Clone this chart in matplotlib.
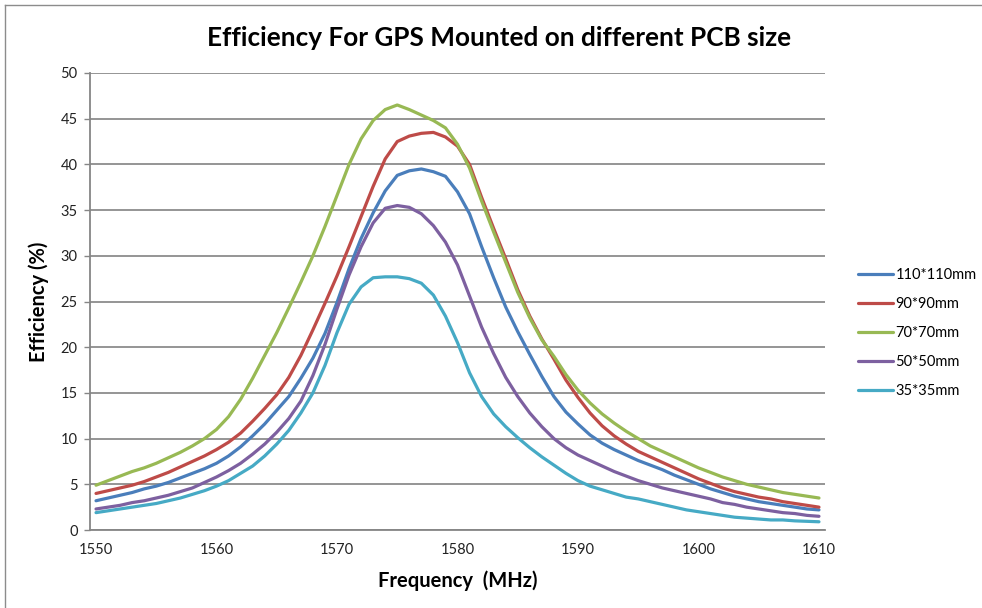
import numpy as np
import matplotlib.pyplot as plt
from matplotlib.lines import Line2D

plt.rcParams['font.family'] = ['Lato', 'DejaVu Sans']

# Frequency sweep, 1 MHz steps
freq = list(range(1550, 1611))

eff_110 = [3.2, 3.5, 3.8, 4.1, 4.5, 4.8, 5.2, 5.7, 6.2, 6.7,
           7.3, 8.1, 9.1, 10.3, 11.6, 13.1, 14.6, 16.6, 18.8, 21.5,
           24.9, 28.6, 31.9, 34.7, 37.1, 38.8, 39.3, 39.5, 39.2, 38.7,
           37.0, 34.6, 31.0, 27.6, 24.4, 21.7, 19.2, 16.8, 14.6, 12.9,
           11.6, 10.4, 9.5, 8.8, 8.2, 7.6, 7.1, 6.6, 6.0, 5.5,
           5.0, 4.5, 4.1, 3.7, 3.4, 3.1, 2.9, 2.7, 2.5, 2.3, 2.2]

eff_90 = [4.0, 4.3, 4.6, 4.9, 5.3, 5.8, 6.3, 6.9, 7.5, 8.1,
          8.8, 9.6, 10.6, 11.9, 13.3, 14.8, 16.7, 19.1, 21.9, 24.8,
          27.8, 31.0, 34.3, 37.6, 40.6, 42.5, 43.1, 43.4, 43.5, 43.0,
          42.0, 40.0, 36.4, 33.0, 29.7, 26.3, 23.4, 20.9, 18.7, 16.4,
          14.5, 12.8, 11.4, 10.3, 9.4, 8.6, 8.0, 7.4, 6.8, 6.2,
          5.6, 5.1, 4.6, 4.2, 3.9, 3.6, 3.4, 3.1, 2.9, 2.7, 2.5]

eff_70 = [4.9, 5.4, 5.9, 6.4, 6.8, 7.3, 7.9, 8.5, 9.2, 10.0,
          11.0, 12.4, 14.3, 16.6, 19.1, 21.6, 24.3, 27.1, 30.0, 33.2,
          36.6, 40.0, 42.8, 44.8, 46.0, 46.5, 46.0, 45.4, 44.8, 44.0,
          42.2, 39.6, 36.0, 32.6, 29.3, 26.0, 23.2, 20.8, 19.0, 17.0,
          15.3, 13.9, 12.7, 11.7, 10.8, 10.0, 9.2, 8.6, 8.0, 7.4,
          6.8, 6.3, 5.8, 5.4, 5.0, 4.7, 4.4, 4.1, 3.9, 3.7, 3.5]

eff_50 = [2.3, 2.5, 2.7, 3.0, 3.2, 3.5, 3.8, 4.2, 4.6, 5.2,
          5.8, 6.5, 7.3, 8.3, 9.4, 10.7, 12.2, 14.1, 16.9, 20.3,
          24.2, 27.9, 31.0, 33.6, 35.2, 35.5, 35.3, 34.6, 33.3, 31.5,
          29.0, 25.6, 22.2, 19.3, 16.7, 14.6, 12.8, 11.3, 10.0, 9.0,
          8.2, 7.6, 7.0, 6.4, 5.9, 5.4, 5.0, 4.6, 4.3, 4.0,
          3.7, 3.4, 3.0, 2.8, 2.5, 2.3, 2.1, 1.9, 1.8, 1.6, 1.5]

eff_35 = [1.9, 2.1, 2.3, 2.5, 2.7, 2.9, 3.2, 3.5, 3.9, 4.3,
          4.8, 5.4, 6.2, 7.0, 8.1, 9.4, 10.9, 12.8, 15.0, 18.0,
          21.6, 24.7, 26.6, 27.6, 27.7, 27.7, 27.5, 27.0, 25.7, 23.4,
          20.5, 17.2, 14.6, 12.7, 11.3, 10.1, 9.0, 8.0, 7.1, 6.2,
          5.4, 4.8, 4.4, 4.0, 3.6, 3.4, 3.1, 2.8, 2.5, 2.2,
          2.0, 1.8, 1.6, 1.4, 1.3, 1.2, 1.1, 1.1, 1.0, 0.95, 0.9]

series_labels = ['110*110mm', '90*90mm', '70*70mm', '50*50mm', '35*35mm']
series_colors = ['#4a7ebb', '#be4b48', '#98b954', '#7d60a0', '#46aac5']
x_ticks = [1550, 1560, 1570, 1580, 1590, 1600, 1610]
y_ticks = [0, 5, 10, 15, 20, 25, 30, 35, 40, 45, 50]

fig = plt.figure(figsize=(9.82, 6.08), dpi=100)
ax = fig.add_axes([90 / 982, 1 - 530 / 608, 735 / 982, 457 / 608])

for vals, lab, col in zip([eff_110, eff_90, eff_70, eff_50, eff_35],
                          series_labels, series_colors):
    ax.plot(freq, vals, color=col, lw=2.3, label=lab, solid_capstyle='round')

ax.set_xlim(1549.5, 1610.5)
ax.set_ylim(0, 50)
ax.set_xticks(x_ticks)
ax.set_yticks(y_ticks)
ax.tick_params(axis='x', length=0, pad=9, labelsize=10.5, colors='#222222')
ax.tick_params(axis='y', length=4, width=1, color='#868686', pad=5,
               labelsize=10.5, labelcolor='#222222')
ax.yaxis.grid(True, color='#8c8c8c', lw=1.3)
ax.set_axisbelow(True)
for s in ['top', 'right']:
    ax.spines[s].set_visible(False)
for s in ['left', 'bottom']:
    ax.spines[s].set_color('#868686')
    ax.spines[s].set_linewidth(1.3)

ax.set_xlabel('Frequency  (MHz)', fontsize=14.5, fontweight='bold', labelpad=10)
ax.set_ylabel('Efficiency (%)', fontsize=14.5, fontweight='bold', labelpad=8)
fig.text(499 / 982, 1 - 38 / 608, 'Efficiency For GPS Mounted on different PCB size',
         ha='center', va='center', fontsize=18.8, fontweight='bold')

ax.legend(loc='center left', bbox_to_anchor=(845 / 982, 1 - 333 / 608),
          bbox_transform=fig.transFigure, frameon=False, fontsize=10.5,
          handlelength=2.4, handletextpad=0.15, labelspacing=1.02)

# outer chart frame
fig.add_artist(Line2D([5 / 982, 1], [1 - 5 / 608] * 2, color='#8c8c8c', lw=1))
fig.add_artist(Line2D([5 / 982] * 2, [0, 1 - 5 / 608], color='#8c8c8c', lw=1))

fig.savefig('out.png', dpi=100)
